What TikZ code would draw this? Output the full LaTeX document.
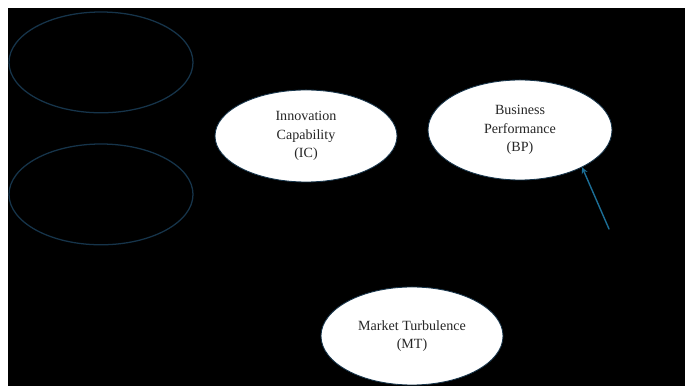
\documentclass[tikz,border=0pt]{standalone}
\usepackage{fontspec}
\setmainfont{Liberation Serif}
\usetikzlibrary{shapes.geometric}
\definecolor{rimblue}{RGB}{22,52,74}
\definecolor{arrowblue}{RGB}{28,110,150}
\begin{document}
\begin{tikzpicture}[>=stealth,line join=round,line cap=round,font=\fontsize{10}{13.2}\selectfont,
	blank/.style={ellipse,draw=rimblue,line width=0.9pt,minimum width=4.6cm,minimum height=2.52cm},
	construct/.style={ellipse,draw=rimblue,fill=white,line width=0.6pt,align=center,text=black!85,inner sep=0pt}]
			\def\xmax{17.125} \def\ymax{9.65}
			\fill[white] (0,0) rectangle (\xmax,\ymax);
			\fill[black] (0.2,0) rectangle (\xmax,9.45);
			\node[blank] (e1) at (2.525,8.09) {};
			\node[blank] (e2) at (2.525,4.79) {};
			\node[construct,minimum width=4.55cm,minimum height=2.3cm] (IC) at (7.65,6.25) {Innovation\\Capability\\(IC)};
			\node[construct,minimum width=4.6cm,minimum height=2.5cm] (BP) at (13,6.4) {Business\\Performance\\(BP)};
			\node[construct,minimum width=4.55cm,minimum height=2.45cm] (MT) at (10.3,1.25) {Market Turbulence\\(MT)};
			\coordinate (t) at (15.225,3.925);
			\draw[->,arrowblue,line width=1pt] (t)--(BP.-31);
	\end{tikzpicture}
\end{document}
